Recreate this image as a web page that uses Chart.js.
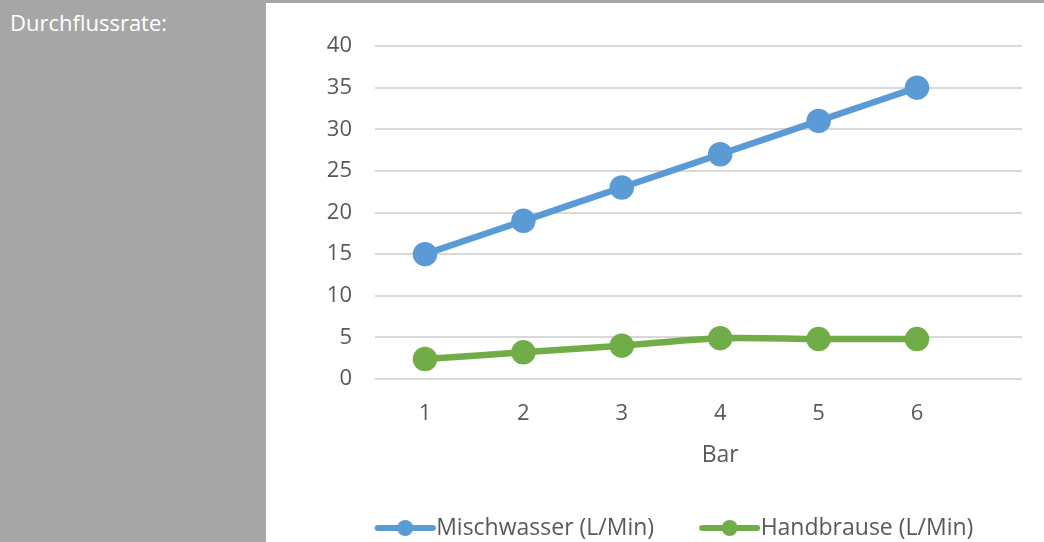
<!DOCTYPE html>
<html>
<head>
<meta charset="utf-8">
<script src="https://cdn.jsdelivr.net/npm/chart.js@4.4.1/dist/chart.umd.min.js"></script>
<style>
  html, body { margin: 0; padding: 0; }
  body { width: 1044px; height: 542px; overflow: hidden; background: #a6a6a6; position: relative; }
  #side { position: absolute; left: 10px; top: 7px; color: #ffffff; font: 22px "Open Sans", sans-serif; }
  #panel { position: absolute; left: 266px; top: 3px; width: 778px; height: 571px; background: #ffffff; }
  #chart { display: block; }
</style>
</head>
<body>
<div id="side">Durchflussrate:</div>
<div id="panel"><canvas id="chart" width="778" height="571"></canvas></div>
<script>
// Werte
const pressures = [1, 2, 3, 4, 5, 6];                 // Bar
const mixedWater = [15, 19, 23, 27, 31, 35];          // Mischwasser (L/Min)
const handShower = [2.4, 3.2, 4.0, 4.9, 4.8, 4.8];    // Handbrause (L/Min)
const yTicks = [0, 5, 10, 15, 20, 25, 30, 35, 40];

const seriesNames = ['Mischwasser (L/Min)', 'Handbrause (L/Min)'];
const seriesColors = ['#5b9bd5', '#70ad47'];
const textColor = '#595959';
const fontFamily = '"Open Sans", sans-serif';

// legend marker: short line with a dot, like the office chart.
// left part of the canvas stays transparent so the text sits close to the marker
function legendIcon(color) {
  const c = document.createElement('canvas');
  c.width = 72;
  c.height = 20;
  const ctx = c.getContext('2d');
  ctx.strokeStyle = color;
  ctx.lineWidth = 6;
  ctx.lineCap = 'round';
  ctx.beginPath();
  ctx.moveTo(14, 10);
  ctx.lineTo(69, 10);
  ctx.stroke();
  ctx.fillStyle = color;
  ctx.beginPath();
  ctx.arc(41.5, 10, 8, 0, Math.PI * 2);
  ctx.fill();
  return c;
}

// axis title drawn under the middle of the full category range
const axisTitlePlugin = {
  id: 'axisTitle',
  afterDraw(chart) {
    const xScale = chart.scales.x;
    const ctx = chart.ctx;
    ctx.save();
    ctx.fillStyle = textColor;
    ctx.font = '23px ' + fontFamily;
    ctx.textAlign = 'center';
    ctx.textBaseline = 'middle';
    ctx.fillText('Bar', xScale.getPixelForValue(4), xScale.top + 76);
    ctx.restore();
  }
};

const datasets = [mixedWater, handShower].map((values, i) => ({
  label: seriesNames[i],
  data: values.map((v, j) => ({ x: pressures[j], y: v })),
  borderColor: seriesColors[i],
  backgroundColor: seriesColors[i],
  pointBackgroundColor: seriesColors[i],
  pointBorderColor: seriesColors[i],
  borderWidth: 6.5,
  pointRadius: 9,
  pointHoverRadius: 9,
  tension: 0.3,
  fill: false
}));

new Chart(document.getElementById('chart').getContext('2d'), {
  type: 'line',
  data: { datasets },
  options: {
    responsive: false,
    animation: false,
    layout: { padding: { left: 60, right: 22, top: 43, bottom: 24.5 } },
    scales: {
      x: {
        type: 'linear',
        min: 0.492,
        max: 7.067,
        afterBuildTicks: (scale) => { scale.ticks = pressures.map(v => ({ value: v })); },
        afterFit: (scale) => { scale.height = 92.5; },
        grid: { display: false, drawTicks: false },
        border: { display: false },
        ticks: { color: textColor, padding: 22, font: { family: fontFamily, size: 22 } }
      },
      y: {
        min: 0,
        max: 40,
        afterBuildTicks: (scale) => { scale.ticks = yTicks.map(v => ({ value: v })); },
        afterFit: (scale) => { scale.width = 49; },
        grid: { color: '#d9d9d9', lineWidth: 2, drawTicks: false },
        border: { display: false },
        ticks: { color: textColor, padding: 23, font: { family: fontFamily, size: 22 } }
      }
    },
    plugins: {
      tooltip: { enabled: false },
      legend: {
        position: 'bottom',
        labels: {
          usePointStyle: true,
          pointStyleWidth: 50,
          padding: 45,
          color: textColor,
          font: { family: fontFamily, size: 23 },
          generateLabels: (chart) => chart.data.datasets.map((ds, i) => ({
            text: ds.label,
            pointStyle: legendIcon(ds.borderColor),
            fontColor: textColor,
            lineWidth: 0,
            datasetIndex: i,
            hidden: false
          }))
        }
      }
    }
  },
  plugins: [axisTitlePlugin]
});
</script>
</body>
</html>
